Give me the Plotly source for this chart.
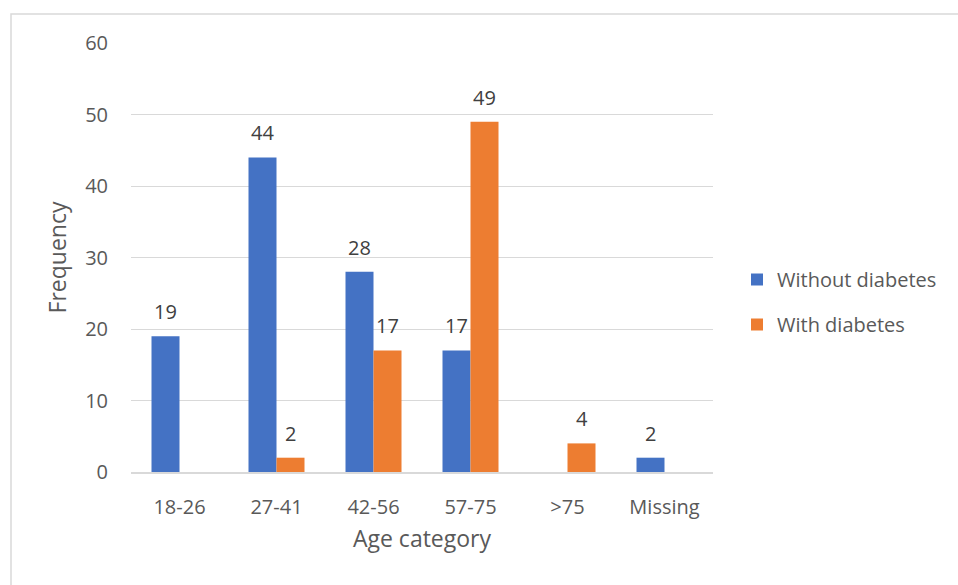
import plotly.graph_objects as go

categories = ["18-26", "27-41", "42-56", "57-75", ">75", "Missing"]
without_diabetes = [19, 44, 28, 17, None, 2]
with_diabetes = [None, 2, 17, 49, 4, None]
y_ticks = [0, 10, 20, 30, 40, 50, 60]

BLUE = "#4472C4"
ORANGE = "#ED7D31"
TXT = "#595959"
FONT = "Open Sans"

fig = go.Figure()
fig.add_trace(go.Bar(x=categories, y=without_diabetes, name="Without diabetes",
                     marker=dict(color=BLUE, line=dict(width=0)), legendgroup="a"))
fig.add_trace(go.Bar(x=categories, y=with_diabetes, name="With diabetes",
                     marker=dict(color=ORANGE, line=dict(width=0)), legendgroup="b"))

annotations = []
for vals, shift in ((without_diabetes, -14), (with_diabetes, 14)):
    for c, v in zip(categories, vals):
        if v is None:
            continue
        annotations.append(dict(x=c, y=v, xref="x", yref="y", text=str(v), showarrow=False,
                                xshift=shift, yshift=9, yanchor="bottom",
                                font=dict(family=FONT, size=20, color="#404040")))

L, R, T, B = 131, 245, 43, 113
W, H = 958, 585
pw, ph = W - L - R, H - T - B

def px(x):
    return (x - L) / pw

def py(y):
    return (H - B - y) / ph

fig.update_layout(
    width=W, height=H,
    margin=dict(l=L, r=R, t=T, b=B, pad=0),
    paper_bgcolor="white", plot_bgcolor="white",
    barmode="group", bargap=0.4227, bargroupgap=0,
    font=dict(family=FONT, size=20, color=TXT),
    showlegend=True,
    legend=dict(x=px(737), y=py(302), xanchor="left", yanchor="middle",
                font=dict(family=FONT, size=20, color=TXT),
                traceorder="grouped", tracegroupgap=16,
                bgcolor="rgba(0,0,0,0)"),
    annotations=annotations,
    shapes=[dict(type="rect", xref="paper", yref="paper",
                 x0=px(11), x1=px(965), y0=py(595), y1=py(14),
                 line=dict(color="#d9d9d9", width=1.5), layer="below")],
    xaxis=dict(showgrid=False, showline=True, linecolor="#d9d9d9", linewidth=1.5,
               ticks="", ticklabelstandoff=16,
               tickfont=dict(family=FONT, size=20, color=TXT),
               title=dict(text="Age category", standoff=12,
                          font=dict(family=FONT, size=23, color=TXT))),
    yaxis=dict(range=[0, 60], tickvals=y_ticks, showgrid=True, gridcolor="#d9d9d9",
               gridwidth=1, zeroline=False, showline=False, ticks="",
               ticklabelstandoff=22,
               tickfont=dict(family=FONT, size=20, color=TXT),
               title=dict(text="Frequency", standoff=12,
                          font=dict(family=FONT, size=23, color=TXT))),
)

fig.write_html("out.html")
